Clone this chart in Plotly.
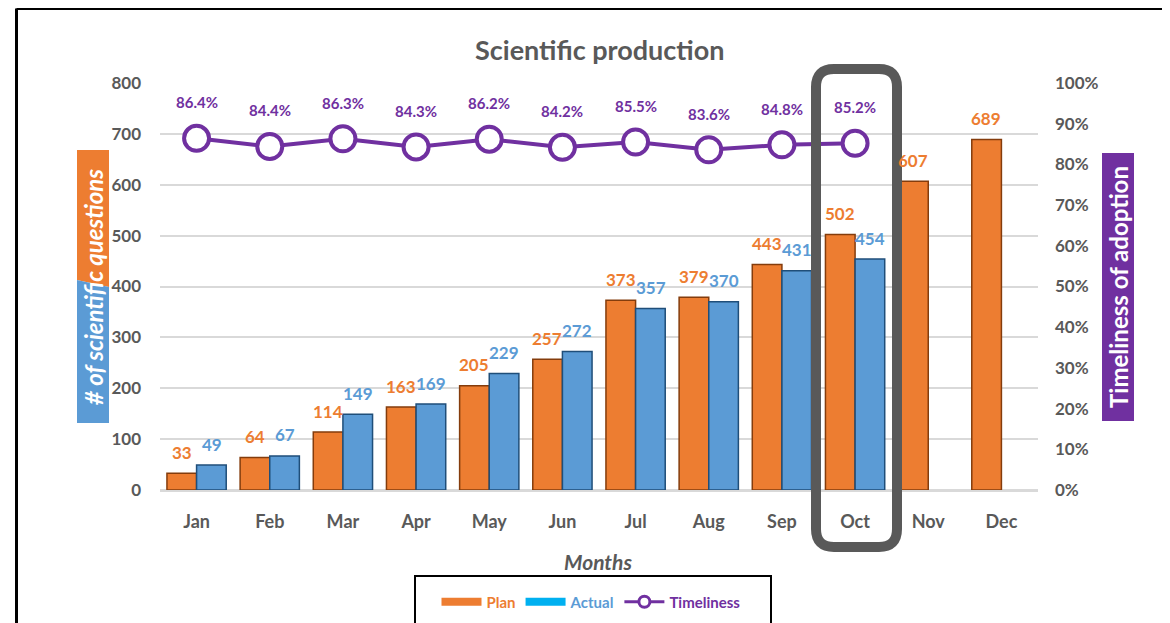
import plotly.graph_objects as go

months = ["Jan", "Feb", "Mar", "Apr", "May", "Jun", "Jul", "Aug", "Sep", "Oct", "Nov", "Dec"]
plan = [33, 64, 114, 163, 205, 257, 373, 379, 443, 502, 607, 689]
actual = [49, 67, 149, 169, 229, 272, 357, 370, 431, 454, None, None]
timeliness = [0.864, 0.844, 0.863, 0.843, 0.862, 0.842, 0.855, 0.836, 0.848, 0.852, None, None]

ORANGE = "#ED7D31"
BLUE = "#5B9BD5"
PURPLE = "#7030A0"
GREY = "#595959"
FONT = "Lato"

OFF = 8  # page body margin
W, H = 1170 - OFF, 623 - OFF
# plot area in page pixel coordinates
L, R, T, B = 160, 1038, 83, 490


def px(x):
    return (x - L) / (R - L)


def py(y):
    return (B - y) / (B - T)


fig = go.Figure()
fig.add_trace(go.Bar(
    x=months, y=plan, name="Plan", showlegend=False,
    marker=dict(color=ORANGE, line=dict(color="#843C0C", width=1.5)),
))
fig.add_trace(go.Bar(
    x=months, y=actual, name="Actual", showlegend=False,
    marker=dict(color=BLUE, line=dict(color="#1F4E79", width=1.5)),
))
fig.add_trace(go.Scatter(
    x=months, y=timeliness, yaxis="y2", mode="lines+markers", showlegend=False,
    name="Timeliness",
    line=dict(color=PURPLE, width=4),
    marker=dict(size=25, color="white", line=dict(color=PURPLE, width=4)),
))
# legend entries
fig.add_trace(go.Scatter(x=[None], y=[None], mode="lines", line=dict(color=ORANGE, width=8),
                         name=f"<span style='color:{ORANGE}'>Plan</span>"))
fig.add_trace(go.Scatter(x=[None], y=[None], mode="lines", line=dict(color="#00B0F0", width=8),
                         name=f"<span style='color:{BLUE}'>Actual</span>"))
fig.add_trace(go.Scatter(x=[None], y=[None], mode="lines+markers", line=dict(color=PURPLE, width=3),
                         marker=dict(size=11, color="white", line=dict(color=PURPLE, width=3)),
                         name=f"<span style='color:{PURPLE}'>Timeliness</span>"))

annotations = []
for m, v in zip(months, plan):
    annotations.append(dict(x=m, y=v, xref="x", yref="y", text=f"<b>{v}</b>", showarrow=False,
                            xanchor="center", yanchor="middle",
                            xshift=-15, yshift=21, font=dict(family=FONT, size=17, color=ORANGE)))
for m, v in zip(months, actual):
    if v is not None:
        annotations.append(dict(x=m, y=v, xref="x", yref="y", text=f"<b>{v}</b>", showarrow=False,
                                xanchor="center", yanchor="middle",
                                xshift=15, yshift=21, font=dict(family=FONT, size=17, color=BLUE)))
for m, v in zip(months, timeliness):
    if v is not None:
        annotations.append(dict(x=m, y=v, xref="x", yref="y2", text=f"<b>{v*100:.1f}%</b>", showarrow=False,
                                xanchor="center", yanchor="middle",
                                yshift=36, font=dict(family=FONT, size=15, color=PURPLE)))

# title & axis titles
annotations.append(dict(x=px(599), y=py(50), xref="paper", yref="paper", text="<b>Scientific production</b>",
                        xanchor="center", yanchor="middle",
                        showarrow=False, font=dict(family=FONT, size=27, color=GREY)))
annotations.append(dict(x=px(598), y=py(561), xref="paper", yref="paper", text="<b><i>Months</i></b>",
                        xanchor="center", yanchor="middle",
                        showarrow=False, font=dict(family=FONT, size=21, color=GREY)))
annotations.append(dict(x=px(93), y=py(287), xref="paper", yref="paper",
                        text="<b><i># of scientific questions</i></b>", textangle=-90,
                        xanchor="center", yanchor="middle",
                        showarrow=False, font=dict(family=FONT, size=24, color="white")))
annotations.append(dict(x=px(1118), y=py(287), xref="paper", yref="paper",
                        text="<b>Timeliness of adoption</b>", textangle=-90,
                        xanchor="center", yanchor="middle",
                        showarrow=False, font=dict(family=FONT, size=24, color="white")))


def P(a, b):
    return f"{px(a):.5f},{py(b):.5f}"


def poly(pts):
    return "M " + " L ".join(P(a, b) for a, b in pts) + " Z"


shapes = []
# left axis title background
shapes.append(dict(type="path", xref="paper", yref="paper", layer="below",
                   path=poly([(77, 150), (109, 150), (109, 287), (77, 280)]),
                   fillcolor=ORANGE, line=dict(width=0)))
shapes.append(dict(type="path", xref="paper", yref="paper", layer="below",
                   path=poly([(77, 280), (109, 287), (109, 423), (77, 423)]),
                   fillcolor=BLUE, line=dict(width=0)))
# right axis title background
shapes.append(dict(type="rect", xref="paper", yref="paper", layer="below",
                   x0=px(1102), x1=px(1134), y0=py(421), y1=py(153),
                   fillcolor=PURPLE, line=dict(width=0)))

# rounded highlight around Oct
Lr, Rr, Tr, Br, rr = 816, 897, 69, 547, 18
path = (f"M {P(Lr+rr, Tr)} L {P(Rr-rr, Tr)} Q {P(Rr, Tr)} {P(Rr, Tr+rr)} "
        f"L {P(Rr, Br-rr)} Q {P(Rr, Br)} {P(Rr-rr, Br)} "
        f"L {P(Lr+rr, Br)} Q {P(Lr, Br)} {P(Lr, Br-rr)} "
        f"L {P(Lr, Tr+rr)} Q {P(Lr, Tr)} {P(Lr+rr, Tr)} Z")
shapes.append(dict(type="path", xref="paper", yref="paper", layer="above", path=path,
                   line=dict(color=GREY, width=10), fillcolor="rgba(0,0,0,0)"))

# legend box
shapes.append(dict(type="rect", xref="paper", yref="paper", x0=px(415), x1=px(771), y0=py(650), y1=py(576),
                   line=dict(color="black", width=2), fillcolor="rgba(0,0,0,0)"))
# outer frame
shapes.append(dict(type="line", xref="paper", yref="paper", x0=px(16.5), x1=px(1180), y0=py(8.5), y1=py(8.5),
                   line=dict(color="black", width=3)))
shapes.append(dict(type="line", xref="paper", yref="paper", x0=px(16.5), x1=px(16.5), y0=py(8.5), y1=py(640),
                   line=dict(color="black", width=3)))

fig.update_layout(
    width=W, height=H,
    margin=dict(l=L - OFF, r=W - (R - OFF), t=T - OFF, b=H - (B - OFF), autoexpand=False),
    paper_bgcolor="white", plot_bgcolor="white",
    barmode="group", bargap=0.19, bargroupgap=0,
    font=dict(family=FONT, color=GREY),
    showlegend=True,
    legend=dict(orientation="h", x=px(591), xanchor="center", y=py(602), yanchor="middle",
                font=dict(family=FONT, size=15, weight="bold"), bgcolor="rgba(0,0,0,0)",
                itemwidth=40, tracegroupgap=0),
    xaxis=dict(range=[-0.5, 11.5], showgrid=False,
               tickfont=dict(family=FONT, size=18, color=GREY, weight="bold"),
               ticklabelstandoff=14, showline=True, linecolor="#D9D9D9", linewidth=2),
    yaxis=dict(range=[0, 800], dtick=100, showgrid=True, gridcolor="#D9D9D9", gridwidth=2,
               zeroline=True, zerolinecolor="#D9D9D9", zerolinewidth=2,
               tickfont=dict(family=FONT, size=17, color=GREY, weight="bold"), ticklabelstandoff=18),
    yaxis2=dict(range=[0, 1], dtick=0.1, tickformat=".0%", overlaying="y", side="right",
                showgrid=False, zeroline=False,
                tickfont=dict(family=FONT, size=17, color=GREY, weight="bold"), ticklabelstandoff=16),
    annotations=annotations,
    shapes=shapes,
)

fig.write_html("out.html")
